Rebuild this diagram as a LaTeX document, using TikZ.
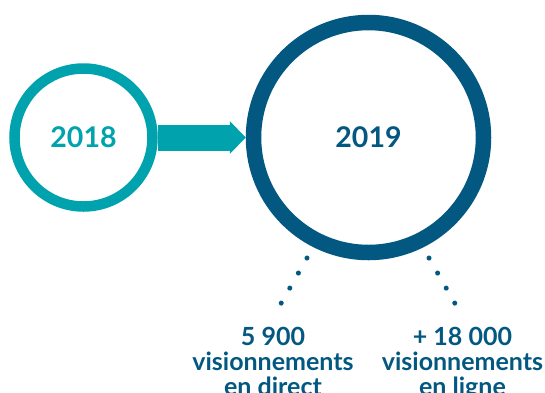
\documentclass[tikz,border=0pt]{standalone}
\usepackage{fontspec}
\setmainfont{Lato}
\usetikzlibrary{arrows.meta,positioning}
\definecolor{ReportTeal}{RGB}{0,163,173}
\definecolor{ReportBlue}{RGB}{2,88,128}

\begin{document}
\begin{tikzpicture}[x=1pt,y=-1pt,>=Latex,font=\bfseries\fontsize{25}{25}\selectfont]
\tikzstyle{year}=[circle,draw,fill=white,inner sep=0pt,font=\bfseries\fontsize{28.5}{30}\selectfont]
\tikzstyle{figure}=[text=ReportBlue,align=center,anchor=north,inner sep=0pt]
\tikzstyle{dots}=[ReportBlue,line width=5pt,line cap=round,dash pattern=on 0.1pt off 17.2pt]
\useasboundingbox (0,0) rectangle (545,392);
\node[year,draw=ReportTeal,text=ReportTeal,line width=10.5pt,minimum size=138pt] (y2018) at (83.5,137.5) {2018};
\node[year,draw=ReportBlue,text=ReportBlue,line width=15.5pt,minimum size=230pt] (y2019) at (368.5,137.5) {2019};
\draw[ReportTeal,line width=26pt,-{Triangle[width=33pt,length=16pt,line width=0pt]}] (y2018) -- (y2019);
% figures below the big circle
\node[figure] (direct) at (273,327) {5 900\\visionnements\\en direct};
\node[figure] (ligne) at (462.5,327) {+ 18 000\\visionnements\\en ligne};
\coordinate (d1) at (307,258);
\coordinate (d2) at (281,303.5);
\coordinate (l1) at (429,258);
\coordinate (l2) at (455,303.5);
\draw[dots] (d1) -- (d2);
\draw[dots] (l1) -- (l2);
\end{tikzpicture}
\end{document}
